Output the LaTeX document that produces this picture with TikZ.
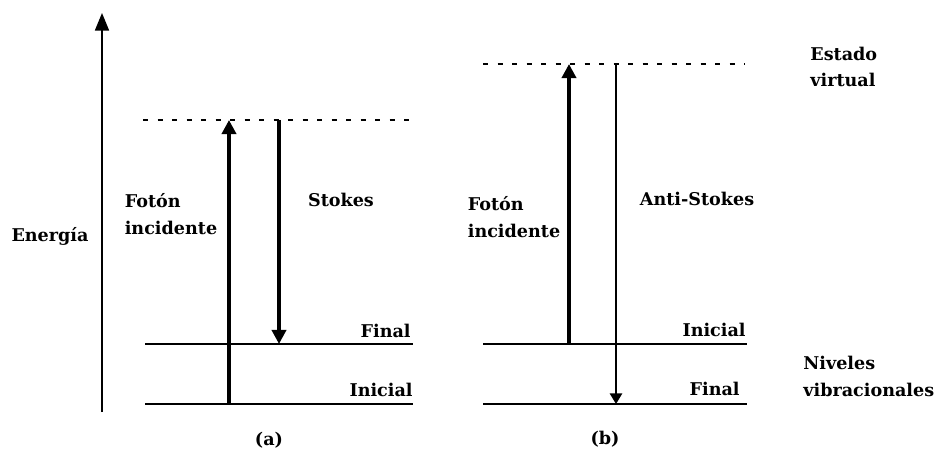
\documentclass[tikz,border=0pt]{standalone}
\usepackage{fontspec}
\setmainfont{DejaVu Serif}
\usepackage{tikz}
\usetikzlibrary{arrows.meta}

\tikzset{
  level/.style={line width=0.85pt},
  virt/.style={line width=0.75pt, dash pattern=on 0.1cm off 0.19cm},
  thickarr/.style={line width=2pt, -{Triangle[width=8pt,length=8pt]}},
  thinarr/.style={line width=0.85pt, -{Triangle[width=7pt,length=6pt]}},
  lbl/.style={font=\bfseries\fontsize{10}{15}\selectfont, align=left, inner sep=0pt}
}

\begin{document}
\begin{tikzpicture}
    \useasboundingbox (0,0) rectangle (18.86,9);
    % energy axis
    \coordinate (e0) at (2.04,0.76);
    \coordinate (e1) at (2.04,8.74);
    \draw[line width=0.85pt, -{Triangle[width=8pt,length=10pt]}] (e0) -- (e1);
    \node[lbl] (energia) at (1.0,4.28) {Energía};

    % (a) Stokes
    \coordinate (av0) at (2.86,6.6);   \coordinate (av1) at (8.2,6.6);
    \coordinate (af0) at (2.9,2.12);   \coordinate (af1) at (8.26,2.12);
    \coordinate (ai0) at (2.9,0.92);   \coordinate (ai1) at (8.26,0.92);
    \draw[virt] (av0) -- (av1);
    \draw[level] (af0) -- (af1);
    \draw[level] (ai0) -- (ai1);
    \coordinate (aup0) at (4.58,0.92); \coordinate (aup1) at (4.58,6.6);
    \coordinate (adn0) at (5.58,6.6);  \coordinate (adn1) at (5.58,2.12);
    \draw[thickarr] (aup0) -- (aup1);
    \draw[thickarr] (adn0) -- (adn1);
    \node[lbl] (afoton) at (3.42,4.72) {Fotón\\incidente};
    \node[lbl] (stokes) at (6.82,5.0) {Stokes};
    \node[lbl, anchor=base east] (afinal) at (8.22,2.26) {Final};
    \node[lbl, anchor=base east] (ainicial) at (8.26,1.08) {Inicial};
    \node[lbl] (capa) at (5.38,0.2) {(a)};

    % (b) Anti-Stokes
    \coordinate (bv0) at (9.66,7.72);  \coordinate (bv1) at (14.9,7.72);
    \coordinate (bi0) at (9.66,2.12);  \coordinate (bi1) at (14.94,2.12);
    \coordinate (bf0) at (9.66,0.92);  \coordinate (bf1) at (14.94,0.92);
    \draw[virt] (bv0) -- (bv1);
    \draw[level] (bi0) -- (bi1);
    \draw[level] (bf0) -- (bf1);
    \coordinate (bup0) at (11.38,2.12); \coordinate (bup1) at (11.38,7.72);
    \coordinate (bdn0) at (12.32,7.72); \coordinate (bdn1) at (12.32,0.92);
    \draw[thickarr] (bup0) -- (bup1);
    \draw[thinarr] (bdn0) -- (bdn1);
    \node[lbl] (bfoton) at (10.28,4.66) {Fotón\\incidente};
    \node[lbl] (antistokes) at (13.94,5.02) {Anti-Stokes};
    \node[lbl, anchor=base east] (binicial) at (14.92,2.28) {Inicial};
    \node[lbl, anchor=base east] (bfinal) at (14.8,1.1) {Final};
    \node[lbl] (capb) at (12.1,0.22) {(b)};

    \node[lbl, anchor=west] (virtual) at (16.2,7.66) {Estado\\virtual};
    \node[lbl, anchor=west] (niveles) at (16.06,1.47) {Niveles\\vibracionales};
\end{tikzpicture}
\end{document}
